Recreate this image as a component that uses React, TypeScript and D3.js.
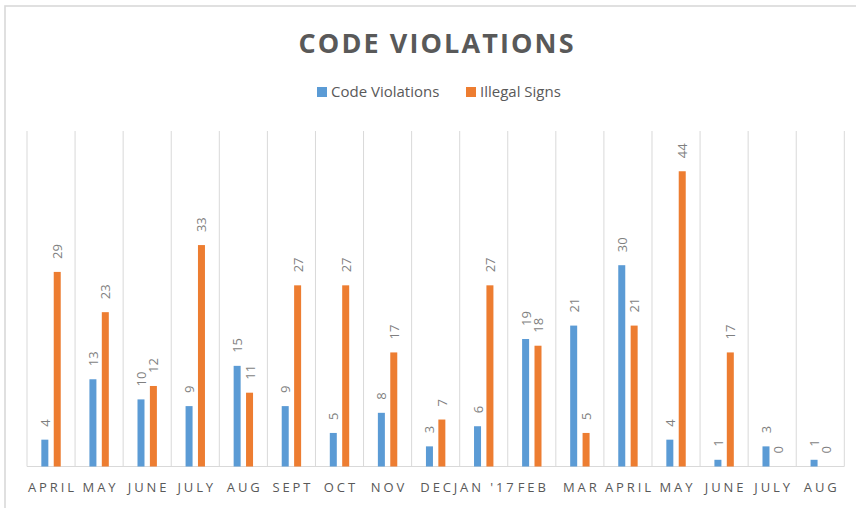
import React from "react";
import * as d3 from "d3";

const months = ["APRIL", "MAY", "JUNE", "JULY", "AUG", "SEPT", "OCT", "NOV", "DEC", "JAN '17", "FEB", "MAR", "APRIL", "MAY", "JUNE", "JULY", "AUG"];
const codeViolations = [4, 13, 10, 9, 15, 9, 5, 8, 3, 6, 19, 21, 30, 4, 1, 3, 1];
const illegalSigns = [29, 23, 12, 33, 11, 27, 27, 17, 7, 27, 18, 5, 21, 44, 17, 0, 0];
const seriesNames = ["Code Violations", "Illegal Signs"];
const colors = ["#5B9BD5", "#ED7D31"];

const W = 856, H = 508;
const left = 27, right = 844.3, top = 131, bottom = 466.5;
const font = "'Open Sans', 'DejaVu Sans', sans-serif";

export default function App() {
  const keys = months.map((m, i) => i);
  const x0 = d3.scaleBand<number>().domain(keys).range([left, right]).padding(0);
  const x1 = d3.scaleBand<string>()
    .domain(seriesNames)
    .range([0, x0.bandwidth()])
    .paddingInner(0.435)
    .paddingOuter(1.157);
  const y = d3.scaleLinear().domain([0, 50]).range([bottom, top]);
  const series = [codeViolations, illegalSigns];
  const ls = 2.9;

  return (
    <svg width={W} height={H} style={{ position: "absolute", left: 0, top: 0, background: "#fff" }}>
      <rect x={5} y={6} width={W + 20} height={H + 20} fill="#fff" stroke="#d9d9d9" strokeWidth={1.6} />

      <text x={436} y={53} textAnchor="middle" fontFamily={font} fontWeight={700} fontSize={27}
        fill="#595959" textLength={275} lengthAdjust="spacing">CODE VIOLATIONS</text>

      {seriesNames.map((s, i) => {
        const lx = i === 0 ? 317 : 466;
        return (
          <g key={s}>
            <rect x={lx} y={87} width={10} height={10} fill={colors[i]} />
            <text x={lx + 14} y={97} fontFamily={font} fontSize={15} fill="#595959">{s}</text>
          </g>
        );
      })}

      {d3.range(months.length + 1).map(i => {
        const gx = left + i * x0.step();
        return <line key={i} x1={gx} x2={gx} y1={top} y2={bottom} stroke="#d9d9d9" strokeWidth={1} />;
      })}
      <line x1={left} x2={right} y1={bottom} y2={bottom} stroke="#d9d9d9" strokeWidth={1.2} />

      {series.map((vals, si) => (
        <g key={si}>
          {vals.map((v, i) => {
            const bx = (x0(i) as number) + (x1(seriesNames[si]) as number);
            const cx = bx + x1.bandwidth() / 2;
            return (
              <g key={i}>
                <rect x={bx} y={y(v)} width={x1.bandwidth()} height={bottom - y(v)} fill={colors[si]} />
                <text transform={`translate(${cx},${y(v) - 13}) rotate(-90)`} dominantBaseline="central"
                  fontFamily={font} fontSize={13} fill="#7f7f7f">{v}</text>
              </g>
            );
          })}
        </g>
      ))}

      {months.map((m, i) => (
        <text key={i} x={(x0(i) as number) + x0.bandwidth() / 2 + ls / 2} y={491.5} textAnchor="middle"
          fontFamily={font} fontSize={13} letterSpacing={ls} fill="#595959">{m}</text>
      ))}
    </svg>
  );
}
